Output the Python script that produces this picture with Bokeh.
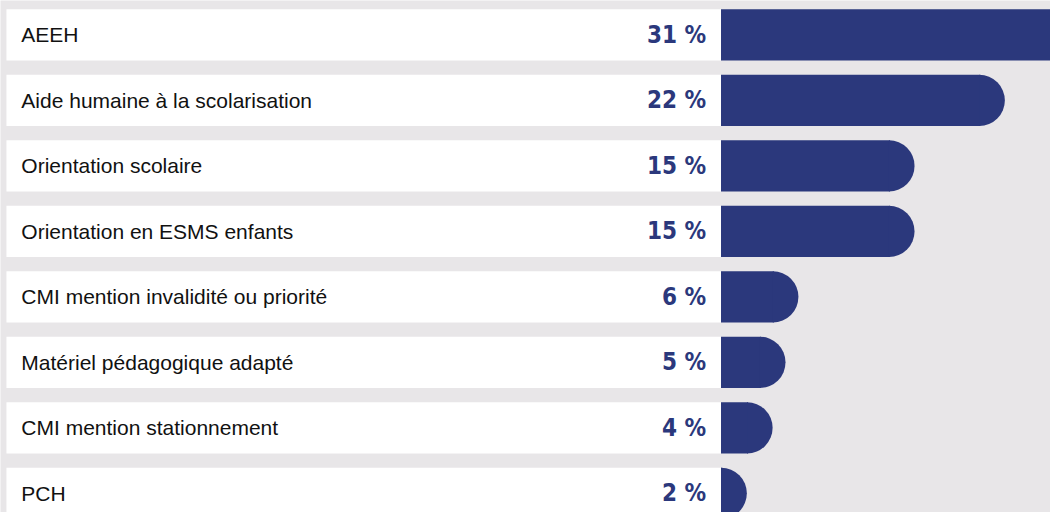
from bokeh.plotting import figure
from bokeh.models import Range1d, ColumnDataSource
from bokeh.core.properties import value
from bokeh.embed import file_html
from bokeh.resources import INLINE
import math

# ---- data ----
categories = [
    "AEEH",
    "Aide humaine à la scolarisation",
    "Orientation scolaire",
    "Orientation en ESMS enfants",
    "CMI mention invalidité ou priorité",
    "Matériel pédagogique adapté",
    "CMI mention stationnement",
    "PCH",
]
values = [31, 22, 15, 15, 6, 5, 4, 2]
value_labels = ["31 %", "22 %", "15 %", "15 %", "6 %", "5 %", "4 %", "2 %"]

# ---- layout / style ----
W, H = 1050, 512
SX, SY = W / 1058, H / 520
BAR_START_PX = 726 * SX          # pixel where value 0 sits
PX_PER_UNIT = 13.0 * SX          # pixels per percentage point
ROW_PITCH_PX = 66.5 * SY
ROW_H_PX = 52 * SY
FIRST_CENTER_PX = 35 * SY
RADIUS_PX = ROW_H_PX / 2
BOX_LEFT_PX = 6 * SX
LABEL_LEFT_PX = 21 * SX
PCT_RIGHT_PX = 711 * SX

BG = "#e8e6e8"
NAVY = "#2b387c"

x0 = -BAR_START_PX / PX_PER_UNIT
x1 = (W - BAR_START_PX) / PX_PER_UNIT
y_top = -FIRST_CENTER_PX / ROW_PITCH_PX
y_bot = (H - FIRST_CENTER_PX) / ROW_PITCH_PX
row_h = ROW_H_PX / ROW_PITCH_PX
r_units = RADIUS_PX / PX_PER_UNIT
seam = 1.0 / PX_PER_UNIT

p = figure(width=W, height=H, output_backend="svg", toolbar_location=None,
           x_range=Range1d(x0, x1), y_range=Range1d(y_bot, y_top),
           min_border=0, outline_line_color=None,
           background_fill_color=BG, border_fill_color=BG)
p.xaxis.visible = False
p.yaxis.visible = False
p.grid.visible = False

rows = list(range(len(categories)))
bar_end = [max(v - r_units, 0) for v in values]
src = ColumnDataSource(dict(
    y=rows,
    top=[r - row_h / 2 for r in rows],
    bottom=[r + row_h / 2 for r in rows],
    bar_end=bar_end,
    rect_end=[b + seam for b in bar_end],
    cat=categories,
    lab=value_labels,
))

# white label boxes
p.quad(left=x0 + BOX_LEFT_PX / PX_PER_UNIT, right=0, top="top", bottom="bottom",
       source=src, fill_color="white", line_color=None)

# bars: rectangle + half-disc cap
p.quad(left=0, right="rect_end", top="top", bottom="bottom",
       source=src, fill_color=NAVY, line_color=None)
p.wedge(x="bar_end", y="y", radius=RADIUS_PX, radius_units="screen",
        start_angle=-math.pi / 2, end_angle=math.pi / 2,
        source=src, fill_color=NAVY, line_color=None)

# category labels
p.text(x=x0 + LABEL_LEFT_PX / PX_PER_UNIT, y="y", text="cat", source=src,
       text_font=value("Liberation Sans"), text_font_size="21px",
       text_color="#111111", text_align="left", text_baseline="middle")

# percentage labels
p.text(x=x0 + PCT_RIGHT_PX / PX_PER_UNIT, y="y", text="lab", source=src,
       text_font=value("DejaVu Sans Condensed"), text_font_style="bold",
       text_font_size="24px", text_color=NAVY,
       text_align="right", text_baseline="middle")

html = file_html(p, INLINE)
html = html.replace("<body>", '<body style="background:%s">' % BG, 1)
open("out.html", "w").write(html)
